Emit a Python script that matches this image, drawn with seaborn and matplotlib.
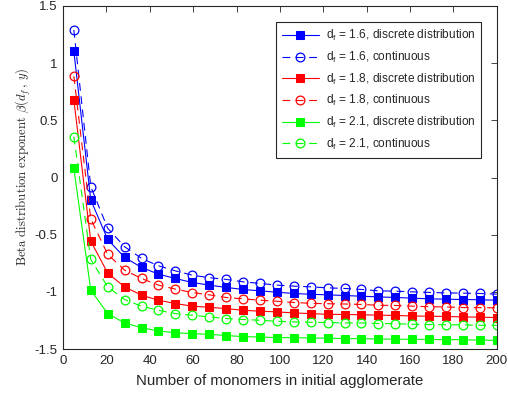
import pandas as pd
import seaborn as sns
import matplotlib.pyplot as plt


monomers = [5, 12.8, 20.6, 28.4, 36.2, 44, 51.8, 59.6, 67.4, 75.2, 83, 90.8, 98.6,
            106.4, 114.2, 122, 129.8, 137.6, 145.4, 153.2, 161, 168.8, 176.6, 184.4, 192.2, 200]

blue_discrete = [1.105, -0.196, -0.541, -0.699, -0.786, -0.845, -0.883, -0.918, -0.941,
                 -0.961, -0.979, -0.991, -1.003, -1.014, -1.021, -1.026, -1.032, -1.038,
                 -1.044, -1.049, -1.055, -1.061, -1.064, -1.067, -1.069, -1.073]
blue_cont = [1.29, -0.079, -0.444, -0.605, -0.707, -0.772, -0.816, -0.854, -0.876, -0.891,
             -0.912, -0.926, -0.941, -0.950, -0.956, -0.965, -0.970, -0.979, -0.991, -0.994,
             -1.0, -1.005, -1.009, -1.011, -1.014, -1.02]
red_discrete = [0.68, -0.555, -0.836, -0.956, -1.029, -1.073, -1.102, -1.125, -1.135, -1.146,
                -1.161, -1.169, -1.175, -1.184, -1.19, -1.196, -1.198, -1.2, -1.204, -1.206,
                -1.211, -1.213, -1.215, -1.219, -1.221, -1.225]
red_cont = [0.886, -0.362, -0.672, -0.81, -0.883, -0.941, -0.976, -1.006, -1.026, -1.049,
            -1.061, -1.073, -1.082, -1.093, -1.1, -1.104, -1.106, -1.11, -1.117, -1.119,
            -1.125, -1.13, -1.132, -1.137, -1.138, -1.14]
green_discrete = [0.08, -0.985, -1.19, -1.272, -1.313, -1.342, -1.357, -1.366, -1.371, -1.382,
                  -1.391, -1.395, -1.4, -1.4, -1.404, -1.404, -1.409, -1.409, -1.412, -1.414,
                  -1.415, -1.416, -1.418, -1.418, -1.422, -1.424]
green_cont = [0.357, -0.716, -0.956, -1.067, -1.125, -1.161, -1.19, -1.204, -1.219, -1.233,
              -1.242, -1.248, -1.257, -1.263, -1.266, -1.268, -1.272, -1.272, -1.277, -1.278,
              -1.283, -1.286, -1.287, -1.289, -1.292, -1.292]

series = [
    ('d$_{\\mathrm{f}}$ = 1.6, discrete distribution', blue_discrete, 'blue', 's'),
    ('d$_{\\mathrm{f}}$ = 1.6, continuous', blue_cont, 'blue', 'o'),
    ('d$_{\\mathrm{f}}$ = 1.8, discrete distribution', red_discrete, 'red', 's'),
    ('d$_{\\mathrm{f}}$ = 1.8, continuous', red_cont, 'red', 'o'),
    ('d$_{\\mathrm{f}}$ = 2.1, discrete distribution', green_discrete, 'lime', 's'),
    ('d$_{\\mathrm{f}}$ = 2.1, continuous', green_cont, 'lime', 'o'),
]

sns.set_style('white')
plt.rcParams['font.family'] = ['Liberation Sans', 'DejaVu Sans']
plt.rcParams['mathtext.fontset'] = 'custom'
plt.rcParams['mathtext.rm'] = 'Liberation Sans'
plt.rcParams['mathtext.it'] = 'Liberation Sans:italic'

fig = plt.figure(figsize=(5.08, 3.98), dpi=100)
ax = fig.add_axes([0.124, 0.123, 0.854, 0.862])

for label, vals, color, marker in series:
    df = pd.DataFrame({'n': monomers, 'beta': vals})
    if marker == 's':
        sns.lineplot(data=df, x='n', y='beta', ax=ax, color=color, marker='s',
                     markersize=5.5, markeredgecolor=color, linewidth=0.8, label=label)
    else:
        sns.lineplot(data=df, x='n', y='beta', ax=ax, color=color, marker='o',
                     markersize=6.3, markerfacecolor='none', markeredgecolor=color,
                     markeredgewidth=0.9, linewidth=0.8, label=label)
        ax.lines[-1].set_dashes((7, 5))

ax.set_xlim(0, 200)
ax.set_ylim(-1.5, 1.5)
ax.set_xticks(range(0, 201, 20))
ax.set_yticks([-1.5, -1, -0.5, 0, 0.5, 1, 1.5])
ax.set_yticklabels(['-1.5', '-1', '-0.5', '0', '0.5', '1', '1.5'])
ax.tick_params(direction='in', top=True, right=True, length=4, width=0.6,
               labelsize=9.5, colors='0.15', labelcolor='0.15', pad=4)
for sp in ax.spines.values():
    sp.set_color('0.15')
    sp.set_linewidth(0.8)

ax.set_xlabel('Number of monomers in initial agglomerate', fontsize=10.8, color='0.15',
              labelpad=5)
yl = ax.set_ylabel(r'$\mathrm{Beta\ distribution\ exponent}\ \beta(d_f\,,\,y)$',
                   fontsize=9.2, color='0.15')
yl.set_math_fontfamily('cm')
ax.yaxis.set_label_coords(-0.068, 0.53)

leg = ax.legend(loc='upper right', bbox_to_anchor=(0.978, 0.97), fontsize=8.6,
                frameon=True, fancybox=False, edgecolor='0.15', framealpha=1,
                handlelength=3.1, handletextpad=0.6, labelspacing=0.55, borderpad=0.5)
leg.get_frame().set_linewidth(0.8)

fig.savefig('out.png', dpi=100)
